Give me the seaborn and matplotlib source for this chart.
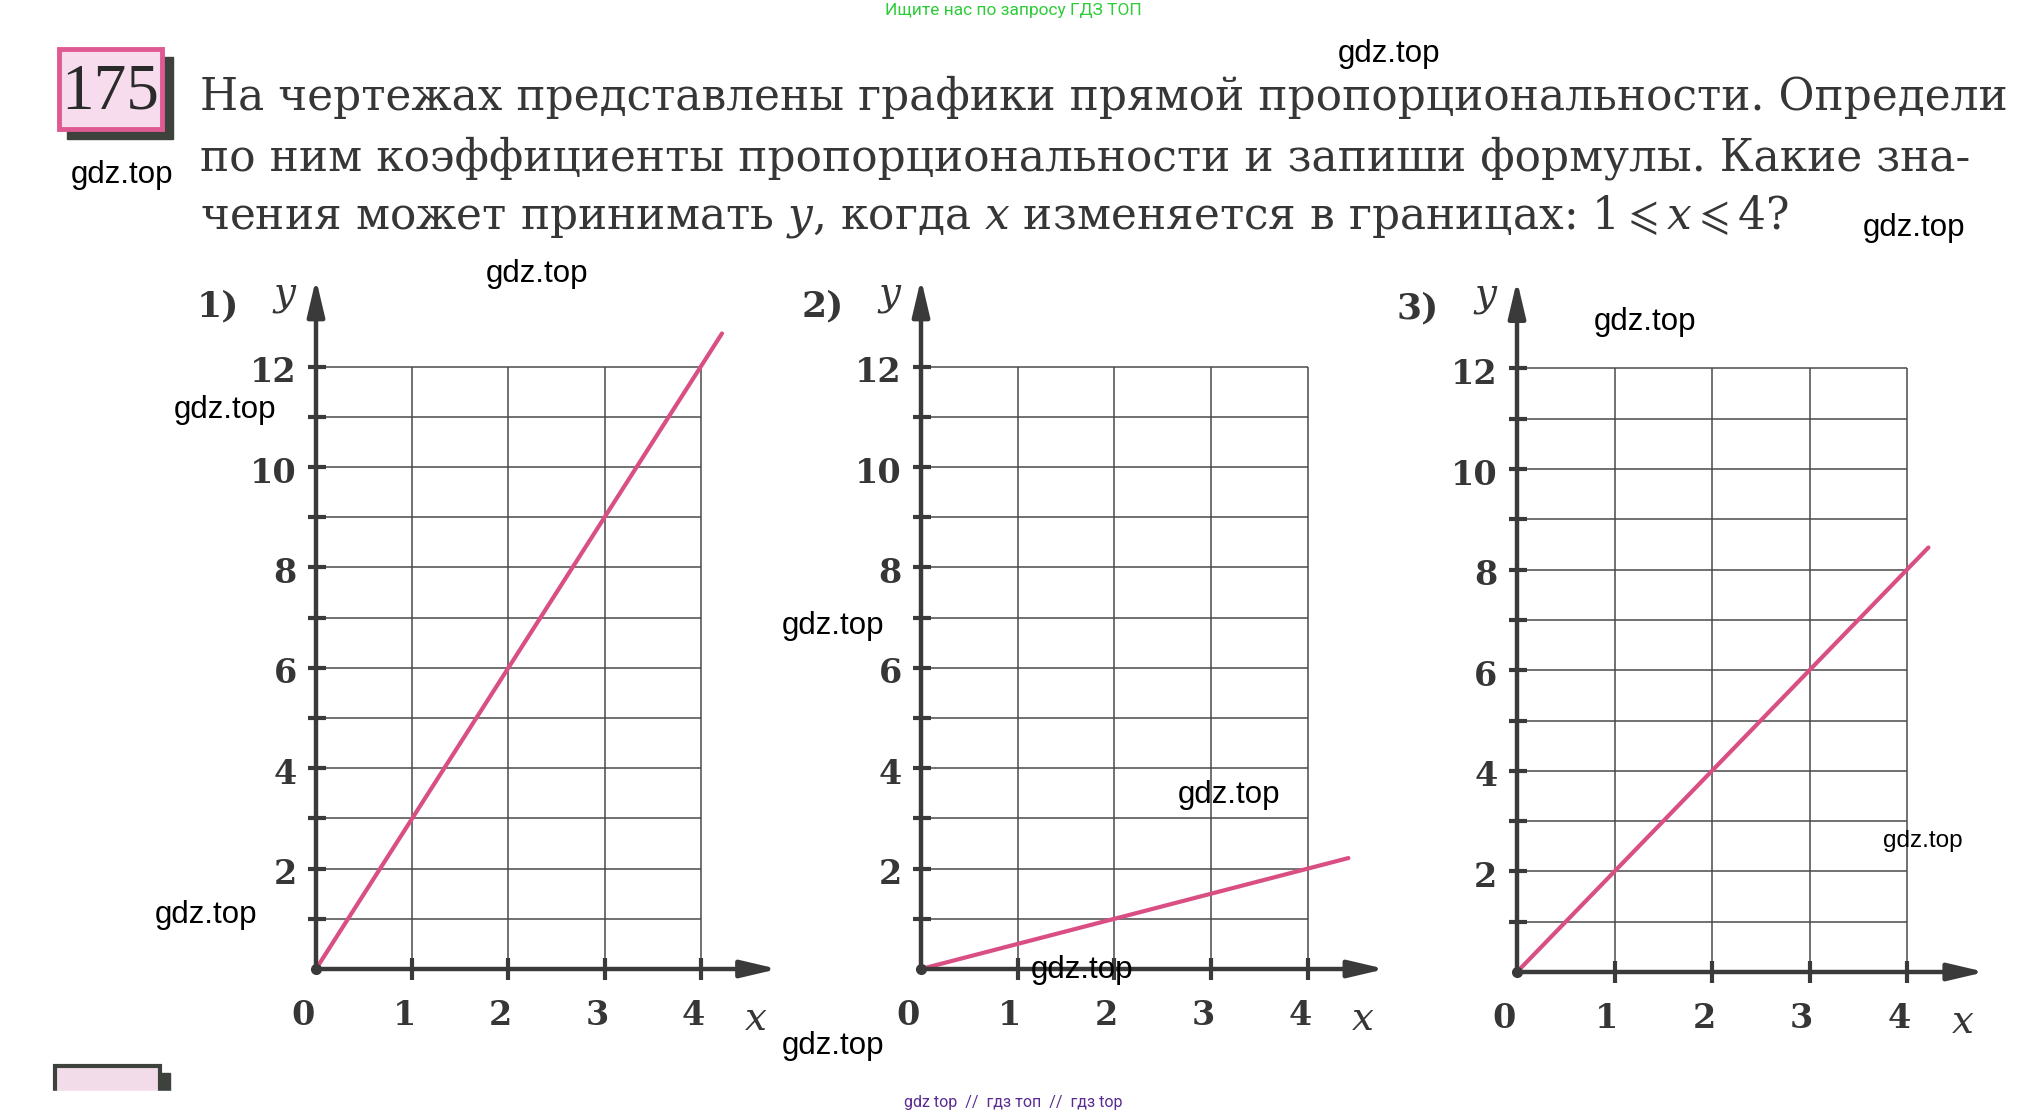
import matplotlib
matplotlib.use("Agg")
import matplotlib.pyplot as plt
import seaborn as sns
from matplotlib.patches import Rectangle

sns.set_theme(style="white")
plt.rcParams['font.family'] = ['DejaVu Serif', 'DejaVu Sans']
plt.rcParams['mathtext.fontset'] = 'dejavuserif'

W, H = 2029, 1118

# данные графиков
x_ticks = [1, 2, 3, 4]
y_ticks = [1, 2, 3, 4, 5, 6, 7, 8, 9, 10, 11, 12]
y_labels = [2, 4, 6, 8, 10, 12]
panel_names = ["1)", "2)", "3)"]
line1_x = [0, 4.22]
line1_y = [0, 12.66]
line2_x = [0, 4.42]
line2_y = [0, 2.21]
line3_x = [0, 4.22]
line3_y = [0, 8.44]

task_lines = [
    "На чертежах представлены графики прямой пропорциональности. Определи",
    "по ним коэффициенты пропорциональности и запиши формулы. Какие зна-",
    r"чения может принимать $y$, когда $x$ изменяется в границах: $1 \leqslant x \leqslant 4$?",
]

GRID = '#4a4a4a'
AXIS = '#3a3a3a'
PINK = '#d94f84'
TXT = '#363636'

fig = plt.figure(figsize=(W / 100, H / 100), dpi=100)
fig.patch.set_facecolor('white')


def make_panel(ox, oy, ux, uy, name, lx, ly):
    x0, x1, y0, y1 = -1.3, 5.2, -1.8, 14.4
    ax = fig.add_axes([(ox + x0 * ux) / W, (H - oy + y0 * uy) / H,
                       (x1 - x0) * ux / W, (y1 - y0) * uy / H])
    ax.set_xlim(x0, x1)
    ax.set_ylim(y0, y1)
    ax.axis('off')
    # сетка
    ax.vlines(x_ticks, 0, 12, color=GRID, lw=1.1, zorder=1)
    ax.hlines(y_ticks, 0, 4, color=GRID, lw=1.1, zorder=1)
    # оси со стрелками
    arrow = dict(arrowstyle='-|>,head_length=1.7,head_width=0.4', lw=3.2,
                 color=AXIS, shrinkA=0, shrinkB=0, mutation_scale=13)
    ax.annotate('', xy=(4.8, 0), xytext=(0, 0), arrowprops=arrow, zorder=3)
    ax.annotate('', xy=(0, 13.75), xytext=(0, 0), arrowprops=arrow, zorder=3)
    # засечки
    ax.hlines(y_ticks, -0.08, 0.1, color=AXIS, lw=3, zorder=3)
    ax.vlines(x_ticks, -0.22, 0.22, color=AXIS, lw=3, zorder=3)
    ax.plot([0], [0], 'o', color=AXIS, ms=7, zorder=4)
    # подписи
    for v in y_labels:
        ax.text(-0.2, v - 0.12, str(v), ha='right', va='center', fontsize=24,
                color=TXT, fontweight='bold')
    ax.text(-0.13, -0.92, "0", ha='center', va='center', fontsize=24, color=TXT,
            fontweight='bold')
    for v in x_ticks:
        ax.text(v - 0.08, -0.92, str(v), ha='center', va='center', fontsize=24,
                color=TXT, fontweight='bold')
    ax.text(4.57, -1.0, r"$x$", ha='center', va='center', fontsize=28, color=TXT)
    ax.text(-0.32, 13.4, r"$y$", ha='center', va='center', fontsize=28, color=TXT)
    ax.text(-1.02, 13.2, name, ha='center', va='center', fontsize=26, color=TXT,
            fontweight='bold')
    sns.lineplot(x=lx, y=ly, ax=ax, color=PINK, lw=3, zorder=2)
    return ax


make_panel(316, 969, 96.2, 50.2, panel_names[0], line1_x, line1_y)
make_panel(921, 969, 96.7, 50.2, panel_names[1], line2_x, line2_y)
make_panel(1517, 972, 97.5, 50.3, panel_names[2], line3_x, line3_y)

# страница поверх
page = fig.add_axes([0, 0, 1, 1], zorder=5)
page.set_xlim(0, W)
page.set_ylim(H, 0)
page.axis('off')
page.patch.set_alpha(0)

# номер задачи
page.add_patch(Rectangle((67, 57), 106, 82, color='#3d423d', zorder=1))
page.add_patch(Rectangle((59, 49), 103, 80, facecolor='#f6dcec', edgecolor='#df5a92',
                         lw=3.5, zorder=2))
page.text(110, 93, "175", ha='center', va='center', fontsize=47,
          family='Liberation Serif', color='#2a2a2a', zorder=3)

# следующая задача (обрезана)
page.add_patch(Rectangle((62, 1073), 108, 30, color='#3d423d', zorder=1))
page.add_patch(Rectangle((55, 1066), 105, 30, facecolor='#f3dcea', edgecolor='#3d423d',
                         lw=3, zorder=2))
page.add_patch(Rectangle((0, 1091), W, 30, color='white', zorder=4))

# текст условия
r = fig.canvas.get_renderer()
t1 = page.text(200, 110, task_lines[0], fontsize=34, va='baseline', color=TXT)
w1 = t1.get_window_extent(renderer=r).width
fs = 34 * (2012 - 200) / w1
t1.set_fontsize(fs)
page.text(200, 170, task_lines[1], fontsize=fs, va='baseline', color=TXT)
page.text(200, 228, task_lines[2], fontsize=fs, va='baseline', color=TXT)

# шапка и подвал
page.text(1013, 11, "Ищите нас по запросу ГДЗ ТОП", ha='center', va='center',
          fontsize=12.5, family='Roboto', color='#2fcc3a')
page.text(1013, 1102, "gdz top  //  гдз топ  //  гдз top", ha='center', va='center',
          fontsize=11.5, family='Roboto', color='#5b2a92', zorder=6)

# водяные знаки
marks = [(1389, 54), (122, 175), (537, 274), (1914, 228), (225, 410), (1645, 322),
         (833, 626), (1229, 795), (206, 915), (1082, 970), (833, 1046)]
for mx, my in marks:
    page.text(mx, my, "gdz.top", ha='center', va='center', fontsize=22.5,
              family='Liberation Sans', color='black', zorder=6)
page.text(1923, 841, "gdz.top", ha='center', va='center', fontsize=17.5,
          family='Liberation Sans', color='black', zorder=6)

fig.savefig('out.png', dpi=100)
